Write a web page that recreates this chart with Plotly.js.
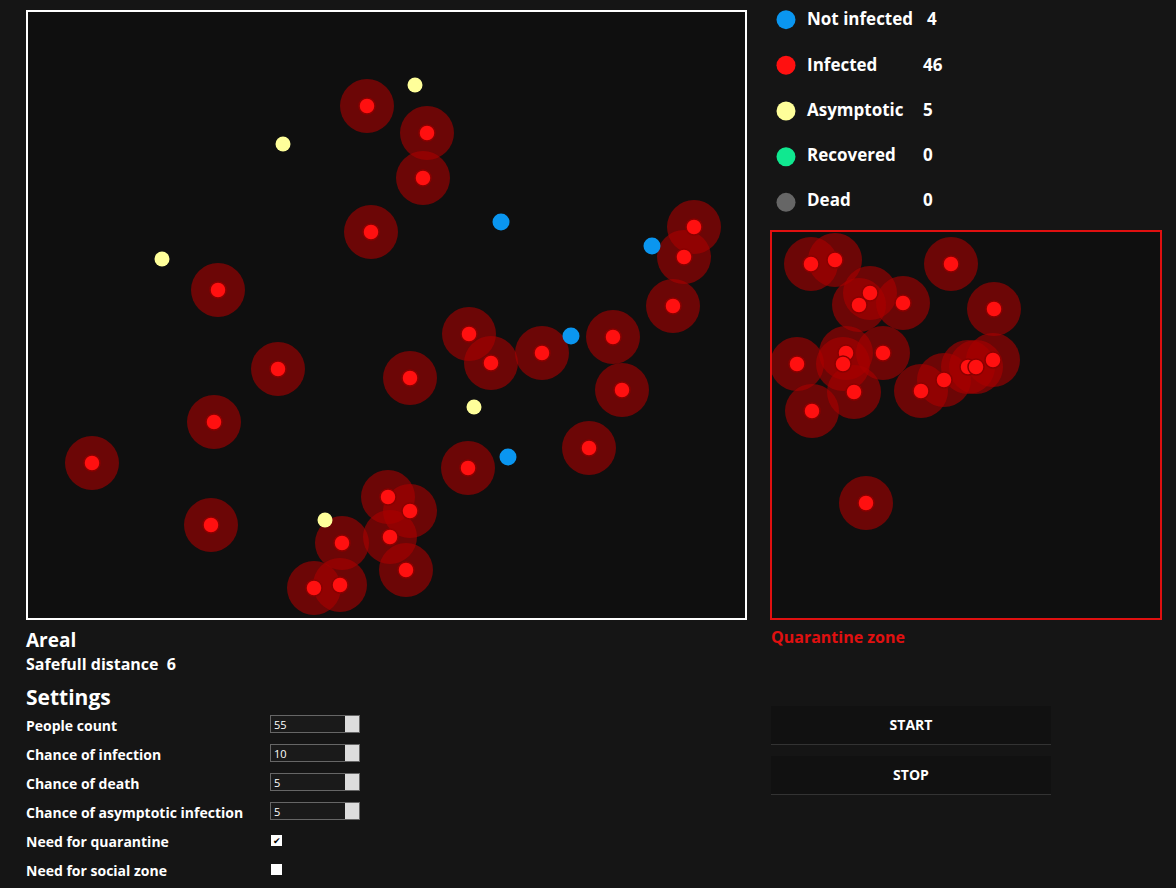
<!DOCTYPE html>
<html><head><meta charset="utf-8">
<script src="https://cdn.plot.ly/plotly-3.0.1.min.js"></script>
<style>
body{margin:0;background:#151515;font-family:"Open Sans",sans-serif;color:#fff;}
#plot{position:absolute;left:0;top:0;width:1176px;height:888px;}
.t{position:absolute;font-weight:700;white-space:nowrap;}
.inp{position:absolute;left:270px;width:90px;height:18px;border:1px solid #666;background:#1a1a1a;font-size:11px;line-height:18px;box-sizing:border-box;padding-left:3px;font-weight:400;}
.inp b{position:absolute;right:0;top:0;width:14px;height:16px;background:#ddd;}
.chk{position:absolute;left:271px;width:11px;height:11px;background:#fff;color:#000;font-size:9px;line-height:11px;text-align:center;}
.btn{position:absolute;left:771px;width:280px;height:38px;background:#111;border-bottom:1px solid #333;text-align:center;line-height:38px;font-size:14px;font-weight:700;}
</style></head><body>
<div id="plot"></div>
<div class="t" style="left:26px;top:627px;font-size:19px">Areal</div>
<div class="t" style="left:26px;top:653px;font-size:16px">Safefull distance&nbsp; 6</div>
<div class="t" style="left:26px;top:683px;font-size:21px">Settings</div>
<div class="t" style="left:26px;top:716px;font-size:14px">People count</div>
<div class="t" style="left:26px;top:745px;font-size:14px">Chance of infection</div>
<div class="t" style="left:26px;top:774px;font-size:14px">Chance of death</div>
<div class="t" style="left:26px;top:803px;font-size:14px">Chance of asymptotic infection</div>
<div class="t" style="left:26px;top:832px;font-size:14px">Need for quarantine</div>
<div class="t" style="left:26px;top:861px;font-size:14px">Need for social zone</div>
<div class="inp" style="top:715px">55<b></b></div>
<div class="inp" style="top:744px">10<b></b></div>
<div class="inp" style="top:773px">5<b></b></div>
<div class="inp" style="top:802px">5<b></b></div>
<div class="chk" style="top:835px">✔</div>
<div class="chk" style="top:864px"></div>
<div class="t" style="left:771px;top:626px;font-size:16px;color:#e01010">Quarantine zone</div>
<div class="btn" style="top:706px">START</div>
<div class="btn" style="top:756px">STOP</div>
<script>
// main area (pixels inside the box)
const infX = [340,400,396,344,191,251,187,65,184,383,442,464,515,586,646,667,657,595,562,441,361,383,315,363,379,287,313];
const infY = [95,122,167,221,279,358,411,452,514,367,323,352,342,326,295,216,246,379,437,457,486,500,532,526,559,577,574];
const asyX = [388,256,135,447,298];
const asyY = [74,133,248,396,509];
const notX = [474,625,544,481];
const notY = [211,235,325,446];
// quarantine zone
const qX = [40,64,180,99,88,132,223,26,75,72,112,83,41,150,173,197,222,205,95];
const qY = [33,29,33,62,74,72,78,133,122,133,122,161,180,160,149,136,129,136,272];
// legend
const legNames = ['Not infected','Infected','Asymptotic','Recovered','Dead'];
const legCounts = [4,46,5,0,0];
const legColors = ['#0a96f0','#ff1010','#ffff9a','#10e890','#666666'];

const halo = {color:'rgba(170,0,0,0.6)',size:54,line:{width:0}};
const dot = {color:'#ff1010',size:16,line:{color:'#8a0000',width:1.5}};
const traces = [
 {x:infX,y:infY,mode:'markers',marker:halo},
 {x:infX,y:infY,mode:'markers',marker:dot},
 {x:asyX,y:asyY,mode:'markers',marker:{color:'#ffff9a',size:15}},
 {x:notX,y:notY,mode:'markers',marker:{color:'#0a96f0',size:17}},
 {x:qX,y:qY,xaxis:'x2',yaxis:'y2',mode:'markers',marker:halo},
 {x:qX,y:qY,xaxis:'x2',yaxis:'y2',mode:'markers',marker:dot},
 {x:legNames.map(()=>0),y:legNames.map((_,i)=>i),xaxis:'x3',yaxis:'y3',mode:'markers',marker:{color:legColors,size:19}}
];
const W=1176,H=888;
const ax = (a,b)=>[a/W,b/W], ay=(a,b)=>[1-b/H,1-a/H];
const hid = {showgrid:false,zeroline:false,showticklabels:false,ticks:''};
const annotations = [];
legNames.forEach((n,i)=>{
  const yy = 1-(19+45*i)/H;
  annotations.push({xref:'paper',yref:'paper',x:805/W,y:yy,yanchor:'middle',text:n,showarrow:false,xanchor:'left',font:{size:17,color:'#fff',family:'Open Sans',weight:700}});
  annotations.push({xref:'paper',yref:'paper',x:(i==0?925:921)/W,y:yy,yanchor:'middle',text:String(legCounts[i]),showarrow:false,xanchor:'left',font:{size:17,color:'#fff',family:'Open Sans',weight:700}});
});
const layout = {
  width:W,height:H,margin:{l:0,r:0,t:0,b:0},showlegend:false,
  paper_bgcolor:'#151515',plot_bgcolor:'rgba(0,0,0,0)',
  xaxis:Object.assign({domain:ax(27,746),range:[0,719]},hid),
  yaxis:Object.assign({domain:ay(11,619),range:[608,0]},hid),
  xaxis2:Object.assign({domain:ax(771,1161),range:[0,390]},hid),
  yaxis2:Object.assign({domain:ay(231,619),range:[388,0]},hid),
  xaxis3:Object.assign({domain:ax(776,796),range:[-1,1]},hid),
  yaxis3:Object.assign({domain:ay(0,222),range:[4.43,-0.43]},hid),
  shapes:[
   {type:'rect',layer:'below',xref:'paper',yref:'paper',x0:27/W,x1:746/W,y0:1-619/H,y1:1-11/H,fillcolor:'#0f0f0f',line:{width:0}},
   {type:'rect',layer:'below',xref:'paper',yref:'paper',x0:771/W,x1:1161/W,y0:1-619/H,y1:1-231/H,fillcolor:'#0f0f0f',line:{width:0}},
   {type:'rect',xref:'paper',yref:'paper',x0:27/W,x1:746/W,y0:1-619/H,y1:1-11/H,line:{color:'#fff',width:2}},
   {type:'rect',xref:'paper',yref:'paper',x0:771/W,x1:1161/W,y0:1-619/H,y1:1-231/H,line:{color:'#e01010',width:2}}
  ],
  annotations
};
Plotly.newPlot('plot',traces,layout,{displayModeBar:false,staticPlot:true});
</script>
</body></html>
